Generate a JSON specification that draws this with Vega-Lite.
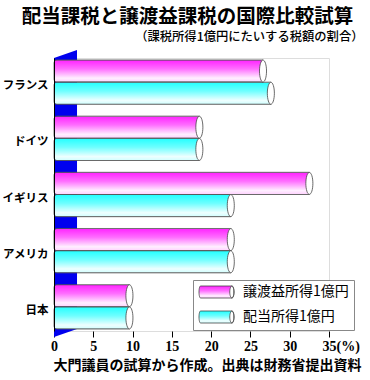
{
  "$schema": "https://vega.github.io/schema/vega-lite/v6.json",
  "width": 275,
  "height": 273,
  "autosize": {"type": "none"},
  "padding": {"left": 54, "top": 58, "right": 41, "bottom": 49},
  "background": "white",
  "title": {
    "text": "配当課税と譲渡益課税の国際比較試算",
    "font": "Noto Sans CJK JP",
    "fontSize": 19.5,
    "fontWeight": "bold",
    "color": "black",
    "anchor": "middle",
    "dx": -4,
    "dy": 0.5,
    "offset": 4
  },
  "datasets": {
    "bars": [
      {"country": "フランス", "series": "譲渡益所得1億円", "value": 26.6},
      {"country": "フランス", "series": "配当所得1億円", "value": 27.6},
      {"country": "ドイツ", "series": "譲渡益所得1億円", "value": 18.5},
      {"country": "ドイツ", "series": "配当所得1億円", "value": 18.5},
      {"country": "イギリス", "series": "譲渡益所得1億円", "value": 32.5},
      {"country": "イギリス", "series": "配当所得1億円", "value": 22.5},
      {"country": "アメリカ", "series": "譲渡益所得1億円", "value": 22.5},
      {"country": "アメリカ", "series": "配当所得1億円", "value": 22.5},
      {"country": "日本", "series": "譲渡益所得1億円", "value": 9.6},
      {"country": "日本", "series": "配当所得1億円", "value": 9.6}
    ],
    "wall": [
      {"wx": 0, "wy1": -2.2, "wy2": 100},
      {"wx": 2.93, "wy1": 0.7, "wy2": 102.9}
    ]
  },
  "layer": [
    {
      "data": {"name": "wall"},
      "mark": {"type": "area", "color": "#0000ee", "orient": "vertical", "clip": false},
      "encoding": {
        "x": {
          "field": "wx", "type": "quantitative",
          "axis": {
            "orient": "top", "title": "（課税所得1億円にたいする税額の割合）",
            "labels": false, "ticks": false, "domain": false, "grid": false,
            "titleFont": "Noto Sans CJK JP", "titleFontSize": 12.3, "titleFontWeight": 500,
            "titleAlign": "right", "titleX": 309, "titleY": -21.5, "titleBaseline": "middle", "titleColor": "black"
          }
        },
        "y": {"field": "wy1", "type": "quantitative", "scale": {"domain": [0, 100], "nice": false, "zero": false}, "axis": null},
        "y2": {"field": "wy2"}
      }
    },
    {
      "data": {"name": "bars"},
      "encoding": {
        "y": {
          "field": "country", "type": "nominal",
          "sort": ["フランス", "ドイツ", "イギリス", "アメリカ", "日本"],
          "scale": {"paddingInner": 0.21, "paddingOuter": 0.035},
          "axis": {
            "title": null, "ticks": false, "domain": true, "domainColor": "black", "domainWidth": 1,
            "labelFont": "Noto Sans CJK JP", "labelFontWeight": "bold", "labelFontSize": 11.5,
            "labelColor": "black", "labelPadding": 6, "labelOffset": 4, "zindex": 1
          }
        },
        "yOffset": {
          "field": "series", "type": "nominal",
          "sort": ["譲渡益所得1億円", "配当所得1億円"],
          "scale": {"paddingInner": 0, "paddingOuter": 0}
        },
        "x": {
          "field": "value", "type": "quantitative",
          "scale": {"domain": [0, 35], "nice": false},
          "axis": {
            "orient": "bottom", "values": [0, 5, 10, 15, 20, 25, 30, 35],
            "grid": false, "domain": false, "ticks": true, "tickColor": "black", "tickSize": 6,
            "labelFont": "Liberation Serif", "labelFontWeight": "bold", "labelFontSize": 14,
            "labelColor": "black", "labelPadding": 2,
            "labelExpr": "datum.value == 35 ? '35(%)' : datum.label",
            "labelAlign": {"condition": {"test": "datum.value == 35", "value": "left"}, "value": "center"},
            "labelOffset": {"condition": {"test": "datum.value == 35", "value": -7}, "value": 0},
            "labelFlush": false, "labelOverlap": false,
            "title": "大門議員の試算から作成。出典は財務省提出資料",
            "titleFont": "Noto Sans CJK JP", "titleFontWeight": "bold", "titleFontSize": 14,
            "titleColor": "black", "titleX": 153, "titleY": 34, "titleAlign": "center", "titleBaseline": "middle"
          }
        }
      },
      "layer": [
        {
          "mark": {"type": "bar", "stroke": "#555555", "strokeWidth": 0.8, "cornerRadiusTopLeft": 3, "cornerRadiusBottomLeft": 3},
          "encoding": {
            "fill": {
              "field": "series", "type": "nominal",
              "scale": {
                "domain": ["譲渡益所得1億円", "配当所得1億円"],
                "range": [
                  {"expr": "{gradient: 'linear', x1: 0, y1: 0, x2: 0, y2: 1, stops: [{offset: 0, color: '#ff22ff'}, {offset: 0.4, color: '#ff6eff'}, {offset: 0.82, color: '#ffeeff'}, {offset: 1, color: '#ffd0ff'}]}"},
                  {"expr": "{gradient: 'linear', x1: 0, y1: 0, x2: 0, y2: 1, stops: [{offset: 0, color: '#22ffff'}, {offset: 0.4, color: '#6effff'}, {offset: 0.82, color: '#eeffff'}, {offset: 1, color: '#d0ffff'}]}"}
                ]
              },
              "legend": {
                "orient": "none", "legendX": 139, "legendY": 222, "title": null, "direction": "vertical",
                "fillColor": "white", "strokeColor": "#888888", "padding": 5,
                "symbolType": "M-0.75,-1 L4.48,-1 A0.35,1 0 0 1 4.48,1 L-0.75,1 A0.25,1 0 0 1 -0.75,-1 Z M4.48,-1 A0.35,1 0 0 0 4.48,1 A0.35,1 0 0 0 4.48,-1 Z",
                "symbolSize": 144, "symbolStrokeColor": "#444444", "symbolStrokeWidth": 0.8, "symbolOpacity": 1,
                "labelFont": "Noto Sans CJK JP", "labelFontSize": 14, "labelColor": "black",
                "labelOffset": 31, "rowPadding": 9, "labelLimit": 200
              }
            }
          }
        },
        {
          "mark": {"type": "point", "shape": "M0,-1 A0.32,1 0 1 1 0,1 A0.32,1 0 1 1 0,-1 Z", "size": 484, "filled": true, "fill": "white", "stroke": "#444444", "strokeWidth": 0.8, "opacity": 1}
        }
      ]
    }
  ],
  "resolve": {"scale": {"y": "independent"}, "axis": {"x": "independent"}}
}
